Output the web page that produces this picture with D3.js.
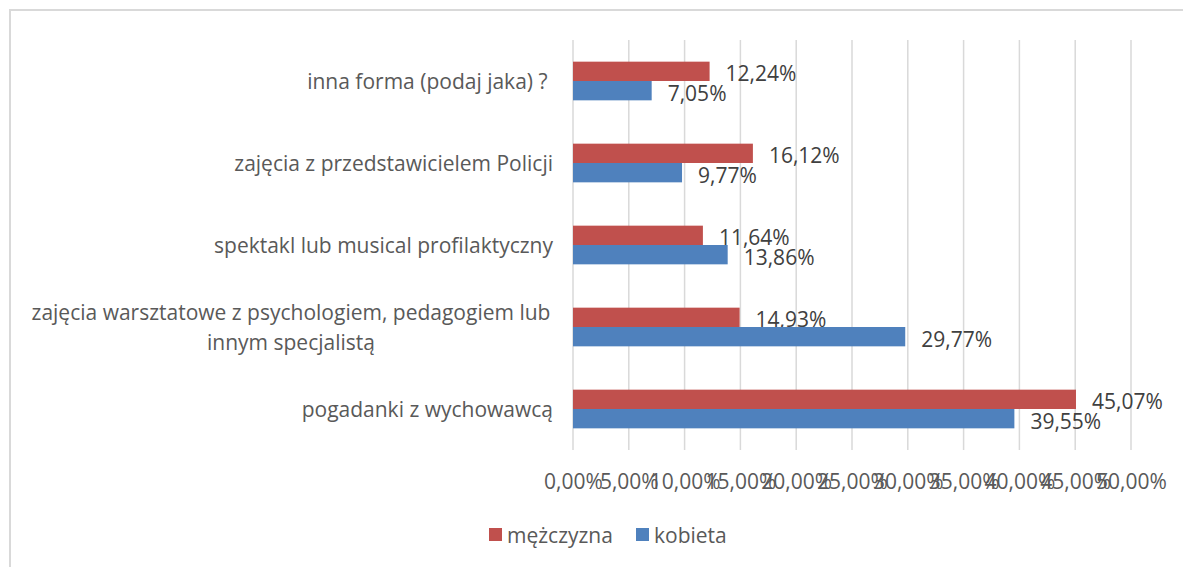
<!DOCTYPE html>
<html><head><meta charset="utf-8">
<script src="https://cdn.jsdelivr.net/npm/d3@7"></script>
<style>
html,body{margin:0;padding:0;background:#fff;}
svg{display:block;font-family:"Open Sans", "Liberation Sans", sans-serif;}
</style></head>
<body>
<svg id="chart" width="1183" height="567"></svg>
<script>
const categories = [
  ["inna forma (podaj jaka) ? "],
  ["zajęcia z przedstawicielem Policji"],
  ["spektakl lub musical profilaktyczny"],
  ["zajęcia warsztatowe z psychologiem, pedagogiem lub", "innym specjalistą"],
  ["pogadanki z wychowawcą"]
];
const seriesNames = ["mężczyzna", "kobieta"];
const menValues = [12.24, 16.12, 11.64, 14.93, 45.07];
const womenValues = [7.05, 9.77, 13.86, 29.77, 39.55];
const tickValues = [0, 5, 10, 15, 20, 25, 30, 35, 40, 45, 50];
const colors = ["#C0504D", "#4F81BD"];

const fmt = v => v.toFixed(2).replace(".", ",") + "%";
const svg = d3.select("#chart");
const textColor = "#595959";
const fontSize = 21;

// chart border
svg.append("rect").attr("x", 10).attr("y", 10).attr("width", 1190).attr("height", 600)
  .attr("fill", "none").attr("stroke", "#D9D9D9").attr("stroke-width", 2);

const plot = {left: 573, right: 1131, top: 40, bottom: 450};
const x = d3.scaleLinear().domain([0, 50]).range([plot.left, plot.right]);
const y = d3.scaleBand().domain(d3.range(categories.length)).range([plot.top, plot.bottom]);
const inner = d3.scaleBand().domain(seriesNames).range([0, y.bandwidth()]).paddingInner(0).paddingOuter(1.12);

// gridlines
svg.append("g").selectAll("line").data(tickValues).join("line")
  .attr("x1", d => x(d)).attr("x2", d => x(d))
  .attr("y1", plot.top).attr("y2", plot.bottom)
  .attr("stroke", "#D9D9D9").attr("stroke-width", 1.5);

// x axis labels
const xAxis = d3.axisBottom(x).tickValues(tickValues).tickSize(0).tickPadding(0)
  .tickFormat(d => fmt(d));
const gx = svg.append("g").attr("transform", `translate(0,${plot.bottom + 31})`).call(xAxis);
gx.select(".domain").remove();
gx.selectAll("text").attr("font-family", "'Open Sans', sans-serif").attr("font-size", fontSize)
  .attr("fill", textColor).attr("dy", null).attr("dominant-baseline", "central");

// bars
const series = [menValues, womenValues];
series.forEach((vals, si) => {
  const g = svg.append("g");
  g.selectAll("rect").data(vals).join("rect")
    .attr("x", x(0))
    .attr("y", (d, i) => y(i) + inner(seriesNames[si]))
    .attr("width", d => x(d) - x(0))
    .attr("height", inner.bandwidth())
    .attr("fill", colors[si]);
  g.selectAll("text").data(vals).join("text")
    .attr("x", d => x(d) + 16)
    .attr("y", (d, i) => y(i) + inner(seriesNames[si]) + inner.bandwidth() / 2 + 2)
    .attr("dominant-baseline", "central")
    .attr("font-size", fontSize).attr("fill", "#404040")
    .text(d => fmt(d));
});

// category labels
const catG = svg.append("g");
categories.forEach((lines, i) => {
  const cy = y(i) + y.bandwidth() / 2;
  const t = catG.append("text").attr("font-size", fontSize).attr("fill", textColor)
    .style("white-space", "pre");
  if (lines.length === 1) {
    t.attr("text-anchor", "end").attr("x", 553).attr("y", cy).attr("dominant-baseline", "central")
      .text(lines[0]);
  } else {
    const lh = 30;
    lines.forEach((ln, k) => {
      t.append("tspan").attr("text-anchor", "middle").attr("x", 291)
        .attr("y", cy + (k - (lines.length - 1) / 2) * lh)
        .attr("dominant-baseline", "central").text(ln);
    });
  }
});

// legend
const legend = svg.append("g").attr("transform", "translate(489,535)");
const lx = [0, 147];
seriesNames.forEach((n, i) => {
  legend.append("rect").attr("x", lx[i]).attr("y", -7).attr("width", 13).attr("height", 13).attr("fill", colors[i]);
  legend.append("text").attr("x", lx[i] + 18).attr("y", 0).attr("dominant-baseline", "central")
    .attr("font-size", fontSize).attr("fill", textColor).text(n);
});
</script>
</body></html>
